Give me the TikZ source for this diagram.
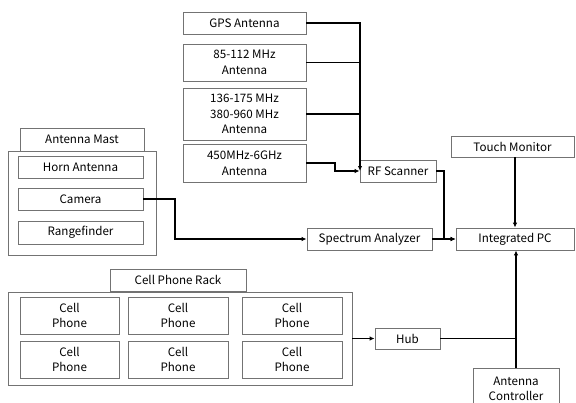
\documentclass[tikz,border=0pt]{standalone}
\usepackage{fontspec}
\setmainfont{Noto Sans CJK KR}
\usetikzlibrary{arrows.meta}
\begin{document}
\begin{tikzpicture}[x=1pt,y=-1pt,
  box/.style={draw=black!55, line width=0.8pt, fill=white, inner sep=0pt, align=center,
    font=\fontsize{11.6pt}{15.5pt}\selectfont},
  conn/.style={line width=1.6pt, black},
  arr/.style={conn, -{Latex[length=5pt,width=4.5pt]}}]
\useasboundingbox (0,0) rectangle (576,402);
% antennas
\node[box, minimum width=123pt, minimum height=22pt] (gps) at (244.5,23) {GPS Antenna};
\node[box, minimum width=123pt, minimum height=37pt] (vhf) at (244.5,62.5) {85-112 MHz\\Antenna};
\node[box, minimum width=123pt, minimum height=52pt] (uhf) at (244.5,114) {136-175 MHz\\380-960 MHz\\Antenna};
\node[box, minimum width=123pt, minimum height=38pt] (wide) at (244.5,163) {450MHz-6GHz\\Antenna};
\node[box, minimum width=76pt, minimum height=22pt] (rf) at (398,171) {RF Scanner};
\node[box, minimum width=123pt, minimum height=21pt] (touch) at (512.5,146.5) {Touch Monitor};
\node[box, minimum width=118pt, minimum height=22pt] (pc) at (515,239) {Integrated PC};
\node[box, minimum width=125pt, minimum height=22pt] (sa) at (369.5,239) {Spectrum Analyzer};
% mast
\node[box, minimum width=124pt, minimum height=23pt] (mastlabel) at (82,139.5) {Antenna Mast};
\node[box, minimum width=148pt, minimum height=104pt] (mast) at (82,203) {};
\node[box, minimum width=125pt, minimum height=22pt] (horn) at (80.5,167) {Horn Antenna};
\node[box, minimum width=125pt, minimum height=22pt] (camera) at (80.5,199) {Camera};
\node[box, minimum width=125pt, minimum height=23pt] (range) at (80.5,232.5) {Rangefinder};
% rack
\node[box, minimum width=136pt, minimum height=22pt] (racklabel) at (178,280) {Cell Phone Rack};
\node[box, minimum width=344pt, minimum height=93pt] (rack) at (180,338.5) {};
\node[box, minimum width=99pt, minimum height=37pt] (p11) at (69.5,315.5) {Cell\\Phone};
\node[box, minimum width=100pt, minimum height=37pt] (p12) at (178,315.5) {Cell\\Phone};
\node[box, minimum width=100pt, minimum height=37pt] (p13) at (292,315.5) {Cell\\Phone};
\node[box, minimum width=99pt, minimum height=37pt] (p21) at (69.5,359.5) {Cell\\Phone};
\node[box, minimum width=100pt, minimum height=37pt] (p22) at (178,359.5) {Cell\\Phone};
\node[box, minimum width=100pt, minimum height=37pt] (p23) at (292,359.5) {Cell\\Phone};
\node[box, minimum width=65pt, minimum height=21pt] (hub) at (407.5,338.5) {Hub};
\node[box, minimum width=86pt, minimum height=42pt] (ctrl) at (516,389) {Antenna\\Controller};
% connectors
\coordinate (bus) at (360,171);
\draw[arr] (gps.east) -| (bus);
\draw[conn] (vhf.east) -- (vhf.east -| bus);
\draw[conn] (uhf.east) -- (uhf.east -| bus);
\draw[arr] (wide.east) -- (335,163) |- (rf.west);
\draw[arr] (rf.east) -- (444,171) |- (pc.west);
\draw[arr] (sa.east) -- (pc.west);
\draw[arr] (camera.east) -- (175,199) |- (sa.west);
\draw[arr] (pc.north |- touch.south) -- (pc.north);
\draw[arr] (rack.east) -- (hub.west);
\coordinate (join) at (516,338.5);
\draw[conn] (hub.east) -- (join);
\draw[arr] (ctrl.north) -- (pc.south -| ctrl.north);
\end{tikzpicture}
\end{document}
